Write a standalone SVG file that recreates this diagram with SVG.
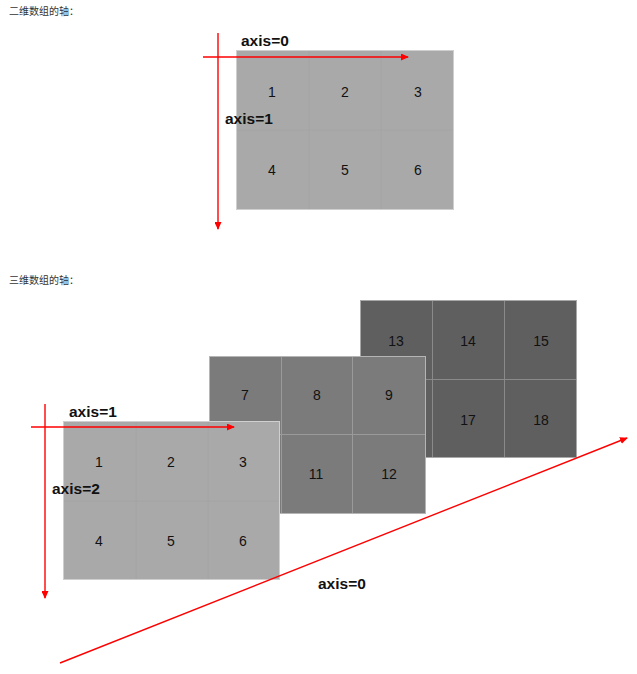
<svg xmlns="http://www.w3.org/2000/svg" width="637" height="674" viewBox="0 0 637 674">
<style>
.cap{font-family:"Liberation Sans","Noto Sans CJK SC",sans-serif;font-size:10px;fill:#333}
.num{font-family:"Liberation Sans",Arial,sans-serif;font-size:14px;fill:#111;text-anchor:middle}
.lbl{font-family:"Liberation Sans",Arial,sans-serif;font-size:15.5px;font-weight:bold;fill:#111}
.ax{stroke:#f00;stroke-width:1.4;fill:none}
.light{fill:#a9a9a9;stroke:#cfcfcf;stroke-width:1}
.mid{fill:#7b7b7b;stroke:#b5b5b5;stroke-width:1}
.dark{fill:#5f5f5f;stroke:#a8a8a8;stroke-width:1}
.gl{stroke:#a3a3a3;stroke-width:0.8}
.gm{stroke:#9a9a9a;stroke-width:1}
.gd{stroke:#8a8a8a;stroke-width:1}
</style>
<defs>
<marker id="ah" markerWidth="8" markerHeight="7" refX="7" refY="3.5" orient="auto" markerUnits="userSpaceOnUse">
<path d="M0,0 L8,3.5 L0,7 Z" fill="#f00"/>
</marker>
</defs>
<rect width="637" height="674" fill="#fff"/>
<text class="cap" x="9" y="15">二维数组的轴：</text>
<text class="cap" x="9" y="284">三维数组的轴：</text>

<g id="array2d">
<rect class="light" x="236.5" y="50.5" width="217" height="159"/>
<line class="gl" x1="309" y1="51" x2="309" y2="209"/>
<line class="gl" x1="381" y1="51" x2="381" y2="209"/>
<line class="gl" x1="237" y1="130" x2="453" y2="130"/>
<text class="num" x="272" y="97">1</text>
<text class="num" x="345" y="97">2</text>
<text class="num" x="418" y="97">3</text>
<text class="num" x="272" y="175">4</text>
<text class="num" x="345" y="175">5</text>
<text class="num" x="418" y="175">6</text>
</g>

<g id="plane3">
<rect class="dark" x="360.5" y="300.5" width="216" height="157"/>
<line class="gd" x1="432.5" y1="301" x2="432.5" y2="457"/>
<line class="gd" x1="504.5" y1="301" x2="504.5" y2="457"/>
<line class="gd" x1="361" y1="379.5" x2="576" y2="379.5"/>
<text class="num" x="396" y="346">13</text>
<text class="num" x="468" y="346">14</text>
<text class="num" x="541" y="346">15</text>
<text class="num" x="468" y="425">17</text>
<text class="num" x="541" y="425">18</text>
</g>

<g id="plane2">
<rect class="mid" x="209.5" y="356.5" width="216" height="157"/>
<line class="gm" x1="281.5" y1="357" x2="281.5" y2="513"/>
<line class="gm" x1="352.5" y1="357" x2="352.5" y2="513"/>
<line class="gm" x1="210" y1="434.5" x2="425" y2="434.5"/>
<text class="num" x="245" y="400">7</text>
<text class="num" x="317" y="400">8</text>
<text class="num" x="389" y="400">9</text>
<text class="num" x="316" y="479">11</text>
<text class="num" x="389" y="479">12</text>
</g>

<g id="plane1">
<rect class="light" x="63.5" y="421.5" width="216" height="158"/>
<line class="gl" x1="136" y1="422" x2="136" y2="579"/>
<line class="gl" x1="208" y1="422" x2="208" y2="579"/>
<line class="gl" x1="64" y1="501" x2="279" y2="501"/>
<text class="num" x="99" y="467">1</text>
<text class="num" x="171" y="467">2</text>
<text class="num" x="243" y="467">3</text>
<text class="num" x="99" y="546">4</text>
<text class="num" x="171" y="546">5</text>
<text class="num" x="243" y="546">6</text>
</g>

<g id="connectors">
<line class="ax" x1="203" y1="57" x2="408" y2="57" marker-end="url(#ah)"/>
<line class="ax" x1="218" y1="33" x2="218" y2="229" marker-end="url(#ah)"/>
<line class="ax" x1="31" y1="427" x2="234" y2="427" marker-end="url(#ah)"/>
<line class="ax" x1="45" y1="404" x2="45" y2="598" marker-end="url(#ah)"/>
<line class="ax" x1="60" y1="663" x2="627" y2="438" marker-end="url(#ah)"/>
</g>

<text class="lbl" x="241" y="46">axis=0</text>
<text class="lbl" x="225" y="124">axis=1</text>
<text class="lbl" x="69" y="417">axis=1</text>
<text class="lbl" x="52" y="494">axis=2</text>
<text class="lbl" x="318" y="589">axis=0</text>
</svg>
